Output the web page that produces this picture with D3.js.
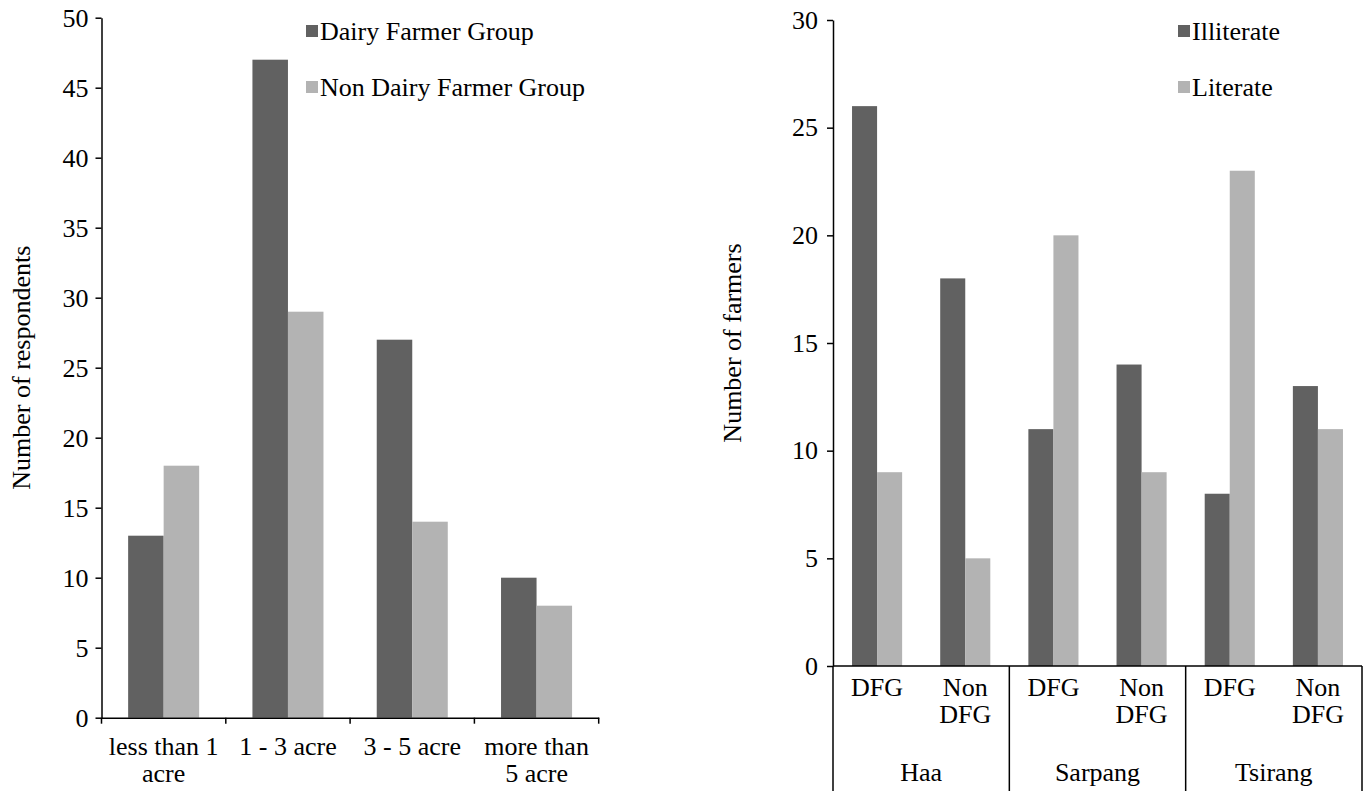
<!DOCTYPE html>
<html>
<head>
<meta charset="utf-8">
<script src="https://cdn.jsdelivr.net/npm/d3@7"></script>
<style>
  html, body { margin: 0; padding: 0; background: #ffffff; }
  svg { display: block; }
</style>
</head>
<body>
<svg id="chart" width="1364" height="791"></svg>
<script>
// ---------- Data: left chart (land holding) ----------
const landCategories = ["less than 1 acre", "1 - 3 acre", "3 - 5 acre", "more than 5 acre"];
const landLabelLines = [["less than 1", "acre"], ["1 - 3 acre"], ["3 - 5 acre"], ["more than", "5 acre"]];
const landSeries = ["Dairy Farmer Group", "Non Dairy Farmer Group"];
const dairyFarmerGroup = [13, 47, 27, 10];
const nonDairyFarmerGroup = [18, 29, 14, 8];
const leftTicks = [0, 5, 10, 15, 20, 25, 30, 35, 40, 45, 50];

// ---------- Data: right chart (literacy) ----------
const districts = ["Haa", "Sarpang", "Tsirang"];
const groups = ["DFG", "Non DFG"];
const groupLabelLines = [["DFG"], ["Non", "DFG"]];
const literacySeries = ["Illiterate", "Literate"];
const illiterate = [26, 18, 11, 14, 8, 13];
const literate = [9, 5, 20, 9, 23, 11];
const rightTicks = [0, 5, 10, 15, 20, 25, 30];

const DARK = "#616161";
const LIGHT = "#b3b3b3";
const FONT = 26;
const LINE = 27;
const FAMILY = "'Liberation Serif', 'Times New Roman', Times, serif";

const svg = d3.select("#chart");

function styleText(sel) {
  return sel.attr("font-family", FAMILY).style("font-family", FAMILY)
    .style("font-size", FONT + "px").attr("fill", "#000");
}

// =============== LEFT CHART ===============
(function () {
  const x0 = 101.5, x1 = 598.7, yTop = 17.7, yBot = 717.7;
  const x = d3.scaleBand().domain(landCategories).range([x0, x1]).padding(0);
  const xs = d3.scaleBand().domain(landSeries).range([0, x.bandwidth()]).paddingInner(0).paddingOuter(0.75);
  const y = d3.scaleLinear().domain([0, 50]).range([yBot, yTop]);
  const g = svg.append("g");

  const rows = landCategories.map((c, i) => ({ c, vals: [dairyFarmerGroup[i], nonDairyFarmerGroup[i]] }));
  const cg = g.selectAll("g.cat").data(rows).join("g").attr("transform", d => `translate(${x(d.c)},0)`);
  cg.selectAll("rect").data(d => d.vals.map((v, j) => ({ s: landSeries[j], v, j })))
    .join("rect")
    .attr("x", d => xs(d.s)).attr("width", xs.bandwidth())
    .attr("y", d => y(d.v)).attr("height", d => yBot - y(d.v))
    .attr("fill", d => d.j === 0 ? DARK : LIGHT);

  // y axis
  const ya = g.append("g").attr("transform", `translate(${x0},0)`)
    .call(d3.axisLeft(y).tickValues(leftTicks).tickSize(6).tickSizeOuter(0).tickPadding(7));
  ya.attr("font-family", FAMILY);
  ya.select(".domain").attr("stroke", "#000").attr("stroke-width", 1.5);
  ya.selectAll(".tick line").attr("stroke", "#000").attr("stroke-width", 1.5);
  styleText(ya.selectAll(".tick text"));

  // x axis
  const xa = g.append("g").attr("transform", `translate(0,${yBot})`)
    .call(d3.axisBottom(x).tickSize(0).tickFormat(""));
  xa.select(".domain").attr("stroke", "#000").attr("stroke-width", 1.5);
  xa.selectAll(".tick").remove();
  const edges = landCategories.map(c => x(c)).concat([x1]);
  g.selectAll("line.xt").data(edges).join("line")
    .attr("x1", d => d).attr("x2", d => d).attr("y1", yBot).attr("y2", yBot + 6)
    .attr("stroke", "#000").attr("stroke-width", 1.5);

  // x labels
  const lab = styleText(g.selectAll("text.xl").data(landCategories).join("text"))
    .attr("text-anchor", "middle")
    .attr("transform", d => `translate(${x(d) + x.bandwidth() / 2},755)`);
  lab.selectAll("tspan").data((d, i) => landLabelLines[i]).join("tspan")
    .attr("x", 0).attr("y", (d, k) => k * LINE).text(d => d);

  // y title
  styleText(g.append("text")).attr("text-anchor", "middle")
    .attr("transform", `translate(30,${(yTop + yBot) / 2}) rotate(-90)`)
    .text("Number of respondents");

  // legend
  const lg = g.selectAll("g.lg").data(landSeries).join("g")
    .attr("transform", (d, i) => `translate(306,${31 + i * 56})`);
  lg.append("rect").attr("x", 0).attr("y", -6).attr("width", 12).attr("height", 12)
    .attr("fill", (d, i) => i === 0 ? DARK : LIGHT);
  styleText(lg.append("text")).attr("x", 14).attr("y", 9).text(d => d);
})();

// =============== RIGHT CHART ===============
(function () {
  const x0 = 833, x1 = 1362, yTop = 20, yBot = 666;
  const cats = [];
  districts.forEach(dd => groups.forEach(gg => cats.push(dd + "|" + gg)));
  const xd = d3.scaleBand().domain(districts).range([x0, x1]).padding(0);
  const x = d3.scaleBand().domain(cats).range([x0, x1]).padding(0);
  const xs = d3.scaleBand().domain(literacySeries).range([0, x.bandwidth()]).paddingInner(0).paddingOuter(0.76);
  const y = d3.scaleLinear().domain([0, 30]).range([yBot, yTop]);
  const g = svg.append("g");

  const rows = cats.map((c, i) => ({ c, vals: [illiterate[i], literate[i]] }));
  const cg = g.selectAll("g.cat").data(rows).join("g").attr("transform", d => `translate(${x(d.c)},0)`);
  cg.selectAll("rect").data(d => d.vals.map((v, j) => ({ s: literacySeries[j], v, j })))
    .join("rect")
    .attr("x", d => xs(d.s)).attr("width", xs.bandwidth())
    .attr("y", d => y(d.v)).attr("height", d => yBot - y(d.v))
    .attr("fill", d => d.j === 0 ? DARK : LIGHT);

  const ya = g.append("g").attr("transform", `translate(${x0},0)`)
    .call(d3.axisLeft(y).tickValues(rightTicks).tickSize(6).tickSizeOuter(0).tickPadding(9));
  ya.attr("font-family", FAMILY);
  ya.select(".domain").attr("stroke", "#000").attr("stroke-width", 1.5);
  ya.selectAll(".tick line").attr("stroke", "#000").attr("stroke-width", 1.5);
  styleText(ya.selectAll(".tick text"));

  // x axis line
  g.append("line").attr("x1", x0).attr("x2", x1).attr("y1", yBot).attr("y2", yBot)
    .attr("stroke", "#000").attr("stroke-width", 1.5);
  // district boundaries
  const edges = districts.map(d => xd(d)).concat([x1]);
  g.selectAll("line.bd").data(edges).join("line")
    .attr("x1", d => d).attr("x2", d => d).attr("y1", yBot).attr("y2", 791)
    .attr("stroke", "#000").attr("stroke-width", 1.5);

  // group labels
  const lab = styleText(g.selectAll("text.gl").data(cats).join("text"))
    .attr("text-anchor", "middle")
    .attr("transform", d => `translate(${x(d) + x.bandwidth() / 2},696)`);
  lab.selectAll("tspan").data((d, i) => groupLabelLines[i % groups.length]).join("tspan")
    .attr("x", 0).attr("y", (d, k) => k * LINE).text(d => d);

  // district labels
  styleText(g.selectAll("text.dl").data(districts).join("text"))
    .attr("text-anchor", "middle")
    .attr("x", d => xd(d) + xd.bandwidth() / 2).attr("y", 781).text(d => d);

  // y title
  styleText(g.append("text")).attr("text-anchor", "middle")
    .attr("transform", `translate(741,${(yTop + yBot) / 2}) rotate(-90)`)
    .text("Number of farmers");

  // legend
  const lg = g.selectAll("g.lg").data(literacySeries).join("g")
    .attr("transform", (d, i) => `translate(1178,${31 + i * 56})`);
  lg.append("rect").attr("x", 0).attr("y", -6).attr("width", 12).attr("height", 12)
    .attr("fill", (d, i) => i === 0 ? DARK : LIGHT);
  styleText(lg.append("text")).attr("x", 14).attr("y", 9).text(d => d);
})();
</script>
</body>
</html>
